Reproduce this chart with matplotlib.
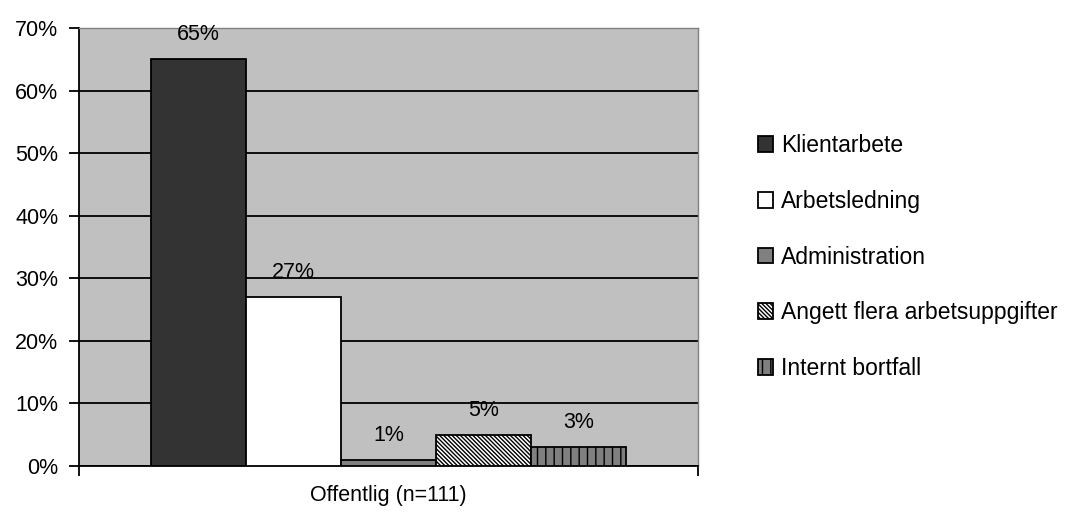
import numpy as np
import matplotlib.pyplot as plt

plt.rcParams['font.family'] = ['Liberation Sans', 'DejaVu Sans']
plt.rcParams['hatch.linewidth'] = 1.0

# Fördelning av arbetsuppgifter, offentlig sektor
group_label = 'Offentlig (n=111)'
categories = ['Klientarbete', 'Arbetsledning', 'Administration',
              'Angett flera arbetsuppgifter', 'Internt bortfall']
values = [65, 27, 1, 5, 3]
colors = ['#333333', '#ffffff', '#808080', '#ffffff', '#808080']
hatches = [None, None, None, '\\' * 8, '||']

fig = plt.figure(figsize=(10.76, 5.14), dpi=100)
ax = fig.add_axes([0.0734, 0.0934, 0.5753, 0.8521])
ax.set_facecolor('#c0c0c0')

width = 0.1535
x = (np.arange(len(values)) - 2) * width
bars = ax.bar(x, values, width=width, color=colors, edgecolor='black',
              linewidth=1.3, zorder=3)
for b, h in zip(bars, hatches):
    if h:
        b.set_hatch(h)

for xi, v in zip(x, values):
    ax.annotate(f'{v}%', (xi, v), xytext=(0, 10), textcoords='offset points',
                ha='center', va='bottom', fontsize=15.5)

ax.set_xlim(-0.5, 0.5)
ax.set_ylim(0, 70)
ax.set_yticks(np.arange(0, 71, 10))
ax.set_yticklabels([f'{t}%' for t in range(0, 71, 10)], fontsize=15.5)
ax.yaxis.grid(True, color='black', linewidth=1.3, zorder=1)
ax.set_axisbelow(True)

ax.set_xticks([-0.5, 0.5])
ax.set_xticklabels(['', ''])
ax.set_xticks([0], minor=True)
ax.set_xticklabels([group_label], minor=True, fontsize=15.5)
ax.tick_params(axis='x', which='minor', length=0, pad=14)
ax.tick_params(axis='both', which='major', length=7, width=1.3, color='black')
ax.tick_params(axis='y', pad=8)

for s in ['top', 'right']:
    ax.spines[s].set_color('#808080')
    ax.spines[s].set_linewidth(1.0)
for s in ['left', 'bottom']:
    ax.spines[s].set_linewidth(1.3)

fig.legend(bars, categories, loc='center left', bbox_to_anchor=(0.685, 0.5),
           frameon=False, fontsize=16.5, handlelength=0.68, handleheight=0.68,
           handletextpad=0.35, labelspacing=1.43)

fig.savefig('out.png', dpi=100)
